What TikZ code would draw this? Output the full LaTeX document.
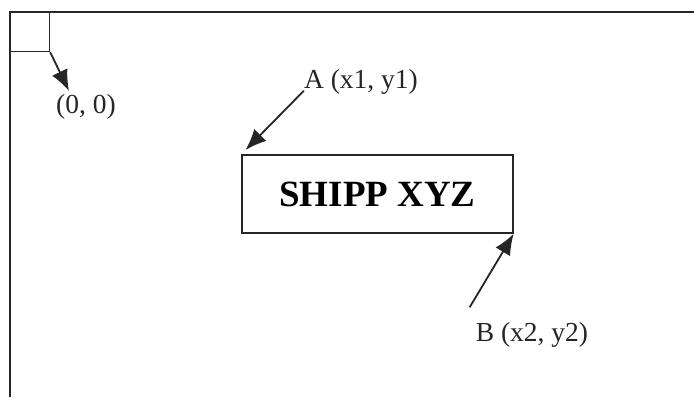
\documentclass[tikz,border=0pt]{standalone}
\usepackage{fontspec}
\setmainfont{Liberation Serif}
\usetikzlibrary{arrows.meta}
\begin{document}
\begin{tikzpicture}[x=1pt,y=-1pt,
  frame/.style={draw=black!85,line width=1.2pt},
  shipbox/.style={draw=black!85,line width=1.4pt,minimum width=271pt,minimum height=78pt,inner sep=0pt,font=\fontsize{37}{40}\selectfont\bfseries},
  lbl/.style={inner sep=0pt,font=\fontsize{27.5}{30}\selectfont,text=black!85},
  arr/.style={draw=black!85,line width=1.8pt,-{Latex[length=21pt,width=17pt]}}]
\useasboundingbox[fill=white] (0,0) rectangle (694,397);
% frame open to right and bottom
\draw[frame] (10,397) -- (10,12) -- (694,12);
\node[draw=black!85,line width=1.2pt,minimum width=39pt,minimum height=39pt,inner sep=0pt,anchor=north west] (sq) at (10,12) {};
\node[lbl] (orig) at (86,107) {(0, 0)};
\coordinate (otip) at (69,91);
\draw[arr] (sq.south east) -- (otip);
% box
\node[shipbox] (ship) at (377.5,194) {SHIPP XYZ};
\node[lbl] (alab) at (361,82) {A (x1, y1)};
\node[lbl] (blab) at (532,335) {B (x2, y2)};
\draw[arr,shorten >=6pt] ([yshift=4pt]alab.south west) -- (ship.north west);
\draw[arr] ([xshift=-6pt,yshift=15pt]blab.north west) -- (ship.south east);
\end{tikzpicture}
\end{document}
